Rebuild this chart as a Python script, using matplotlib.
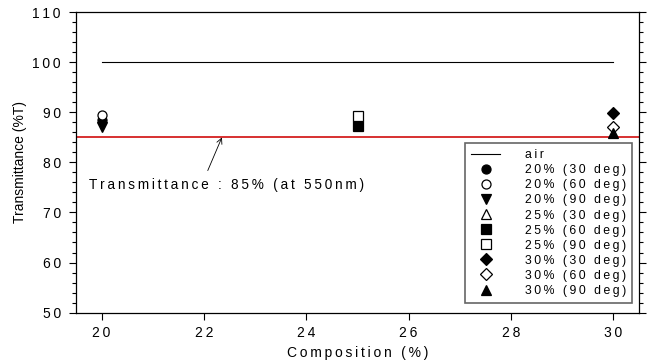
import matplotlib
matplotlib.use("Agg")
import matplotlib.pyplot as plt
from matplotlib.ticker import MultipleLocator

plt.rcParams['font.family'] = ['Liberation Sans', 'DejaVu Sans']

# composition (%) and transmittance (%T) for each film
air_x = [20, 30]
air_y = [100, 100]
ref_level = 85

labels = ['20% (30 deg)', '20% (60 deg)', '20% (90 deg)',
          '25% (30 deg)', '25% (60 deg)', '25% (90 deg)',
          '30% (30 deg)', '30% (60 deg)', '30% (90 deg)']
comp = [20, 20, 20, 25, 25, 25, 30, 30, 30]
trans = [88.4, 89.4, 87.0, 88.2, 87.2, 89.2, 89.8, 87.0, 85.8]
markers = ['o', 'o', 'v', '^', 's', 's', 'D', 'D', '^']
filled = [True, False, True, False, True, False, True, False, True]


def spaced(s):
    # widen the letter spacing a little
    return '\u2009'.join(s)


fig = plt.figure(figsize=(6.5, 3.63), dpi=100)
ax = fig.add_axes([0.117, 0.139, 0.866, 0.827])

ax.axhline(ref_level, color='#d42020', lw=1.3, zorder=2)
ax.plot(air_x, air_y, color='black', lw=0.8, label=spaced('air'))

for x, y, m, f, lab in zip(comp, trans, markers, filled, labels):
    ax.plot([x], [y], linestyle='none', marker=m, markersize=6.5 if m != 'D' else 5.8,
            markerfacecolor='black' if f else 'white', markeredgecolor='black',
            markeredgewidth=0.9, label=spaced(lab), zorder=3)

ax.set_xlim(19.5, 30.5)
ax.set_ylim(50, 110)
ax.yaxis.set_minor_locator(MultipleLocator(2))
ax.tick_params(axis='both', which='both', direction='out', length=5, width=0.8,
               labelsize=10)
ax.tick_params(axis='x', pad=5)
ax.tick_params(axis='y', pad=6)
ax.tick_params(axis='y', which='minor', length=3)
ax.tick_params(axis='y', which='both', right=True)
ax.set_xticks(range(20, 31, 2))
ax.set_xticklabels([spaced(str(v)) for v in range(20, 31, 2)])
ax.set_yticks(range(50, 111, 10))
ax.set_yticklabels([spaced(str(v)) for v in range(50, 111, 10)])
for s in ax.spines.values():
    s.set_linewidth(0.9)

ax.set_xlabel(spaced('Composition (%)'), fontsize=10, labelpad=4)
ax.set_ylabel('Transmittance (%T)', fontsize=10, labelpad=4)

ax.annotate(spaced('Transmittance : 85% (at 550nm)'), xy=(22.35, ref_level),
            xytext=(19.75, 75.4), fontsize=9.8, va='center', ha='left',
            arrowprops=dict(arrowstyle='->', color='black', lw=0.6,
                            shrinkA=4, shrinkB=0, relpos=(0.42, 1.0)))

leg = ax.legend(loc='lower right', bbox_to_anchor=(0.988, 0.032), fontsize=8.8,
                frameon=True, fancybox=False, borderpad=0.5, labelspacing=0.25,
                handlelength=2.4, handletextpad=2.0, borderaxespad=0)
leg.get_frame().set_edgecolor('#404040')
leg.get_frame().set_linewidth(1.2)

fig.savefig('out.png', dpi=100)
